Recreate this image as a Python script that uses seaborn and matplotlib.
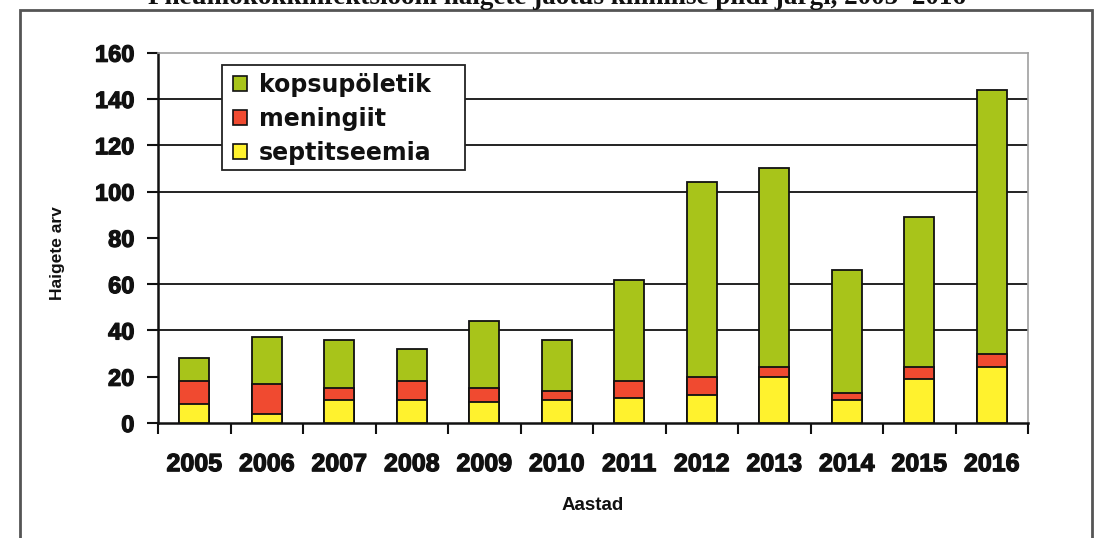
import numpy as np
import pandas as pd
import matplotlib
matplotlib.use("Agg")
import matplotlib.pyplot as plt
import matplotlib.patheffects as pe
from matplotlib.patches import Rectangle, Patch
from matplotlib.ticker import FixedLocator
import seaborn as sns

# Pneumococcal cases by clinical picture, 2005-2016
years = ["2005", "2006", "2007", "2008", "2009", "2010",
         "2011", "2012", "2013", "2014", "2015", "2016"]
septitseemia = [8, 4, 10, 10, 9, 10, 11, 12, 20, 10, 19, 24]
meningiit = [10, 13, 5, 8, 6, 4, 7, 8, 4, 3, 5, 6]
kopsupoletik = [10, 20, 21, 14, 29, 22, 44, 84, 86, 53, 65, 114]

series_names = ["kopsupöletik", "meningiit", "septitseemia"]
y_ticks = [0, 20, 40, 60, 80, 100, 120, 140, 160]
grid_levels = [40, 60, 100, 120, 140]

c_green = "#a8c41a"
c_red = "#f04a30"
c_yellow = "#fff22e"

df = pd.DataFrame({
    "aasta": years,
    "septitseemia": septitseemia,
    "meningiit": meningiit,
    "kopsupoletik": kopsupoletik,
})
df["lvl_yellow"] = df["septitseemia"]
df["lvl_red"] = df["lvl_yellow"] + df["meningiit"]
df["lvl_green"] = df["lvl_red"] + df["kopsupoletik"]

sns.set_theme(style="white")
plt.rcParams["font.family"] = ["Liberation Sans", "DejaVu Sans"]

fig = plt.figure(figsize=(10.95, 5.38), dpi=100)
ax = fig.add_axes([158 / 1095, 1 - 423 / 538, 870 / 1095, 370.3 / 538])

# stacked bars: draw cumulative levels from tallest to shortest
for col, color in [("lvl_green", c_green), ("lvl_red", c_red), ("lvl_yellow", c_yellow)]:
    sns.barplot(data=df, x="aasta", y=col, color=color, saturation=1,
                width=0.41, edgecolor="#111111", linewidth=1.3,
                ax=ax, zorder=3)

ax.set_xlim(-0.5, len(years) - 0.5)
ax.set_ylim(0, 160)
ax.set_yticks(y_ticks)

# horizontal gridlines
ax.grid(False)
for lvl in grid_levels:
    ax.axhline(lvl, color="#111111", linewidth=1.3, zorder=0)

# spines
for s in ("left", "bottom"):
    ax.spines[s].set_color("#111111")
    ax.spines[s].set_linewidth(1.8)
for s in ("top", "right"):
    ax.spines[s].set_color("#a0a0a0")
    ax.spines[s].set_linewidth(1.2)

stroke = [pe.withStroke(linewidth=0.9, foreground="#111111")]

# y ticks
ax.tick_params(axis="y", which="major", direction="out", length=8, width=1.5,
               color="#111111", pad=9, labelsize=17, left=True)
# x ticks: labels centred, tick marks at category boundaries
ax.tick_params(axis="x", which="major", length=0, pad=21, labelsize=18, bottom=True)
ax.xaxis.set_minor_locator(FixedLocator(np.arange(-0.5, len(years), 1.0)))
ax.tick_params(axis="x", which="minor", direction="out", length=8, width=1.5,
               color="#111111", bottom=True)
for lab in ax.get_xticklabels() + ax.get_yticklabels():
    lab.set_fontweight("bold")
    lab.set_color("#111111")
    lab.set_path_effects(stroke)

ax.set_xlabel("Aastad", fontsize=13.5, fontweight="bold", labelpad=15, color="#111111")
ax.set_ylabel("Haigete arv", fontsize=12.5, fontweight="bold", color="#111111")
ax.yaxis.set_label_coords(-0.107, 0.46)

# legend box
box_x0, box_x1 = (222 - 158) / 870, (465 - 158) / 870
box_y0, box_y1 = (423 - 170) / 370.3, (423 - 65) / 370.3
ax.add_patch(Rectangle((box_x0, box_y0), box_x1 - box_x0, box_y1 - box_y0,
                       transform=ax.transAxes, facecolor="white",
                       edgecolor="#222222", linewidth=1.3, zorder=4))

# legend entries
handles = [Patch(facecolor=c, edgecolor="#111111", linewidth=1.2)
           for c in (c_green, c_red, c_yellow)]
leg = ax.legend(handles, series_names, loc="upper left",
                bbox_to_anchor=((233 - 158) / 870, (423 - 73) / 370.3), borderaxespad=0,
                prop={"family": "DejaVu Sans", "weight": "bold", "size": 17},
                handlelength=0.6, handleheight=0.6, handletextpad=0.5,
                labelspacing=0.42, borderpad=0, frameon=False)
leg.set_zorder(5)
for t in leg.get_texts():
    t.set_color("#111111")

# outer chart border
fig.patches.append(Rectangle((20 / 1095, -0.05), 1072 / 1095, 1 - 10 / 538 + 0.05,
                             transform=fig.transFigure, fill=False,
                             edgecolor="#555555", linewidth=2.0))

# chart title
fig.text(557 / 1095, 1 - 4 / 538,
         "Pneumokokkinfektsiooni haigete jaotus kliinilise pildi järgi, 2005–2016",
         ha="center", va="baseline", fontsize=19.5, fontweight="bold",
         family="Liberation Serif", color="#111111")

fig.savefig("out.png", dpi=100)
